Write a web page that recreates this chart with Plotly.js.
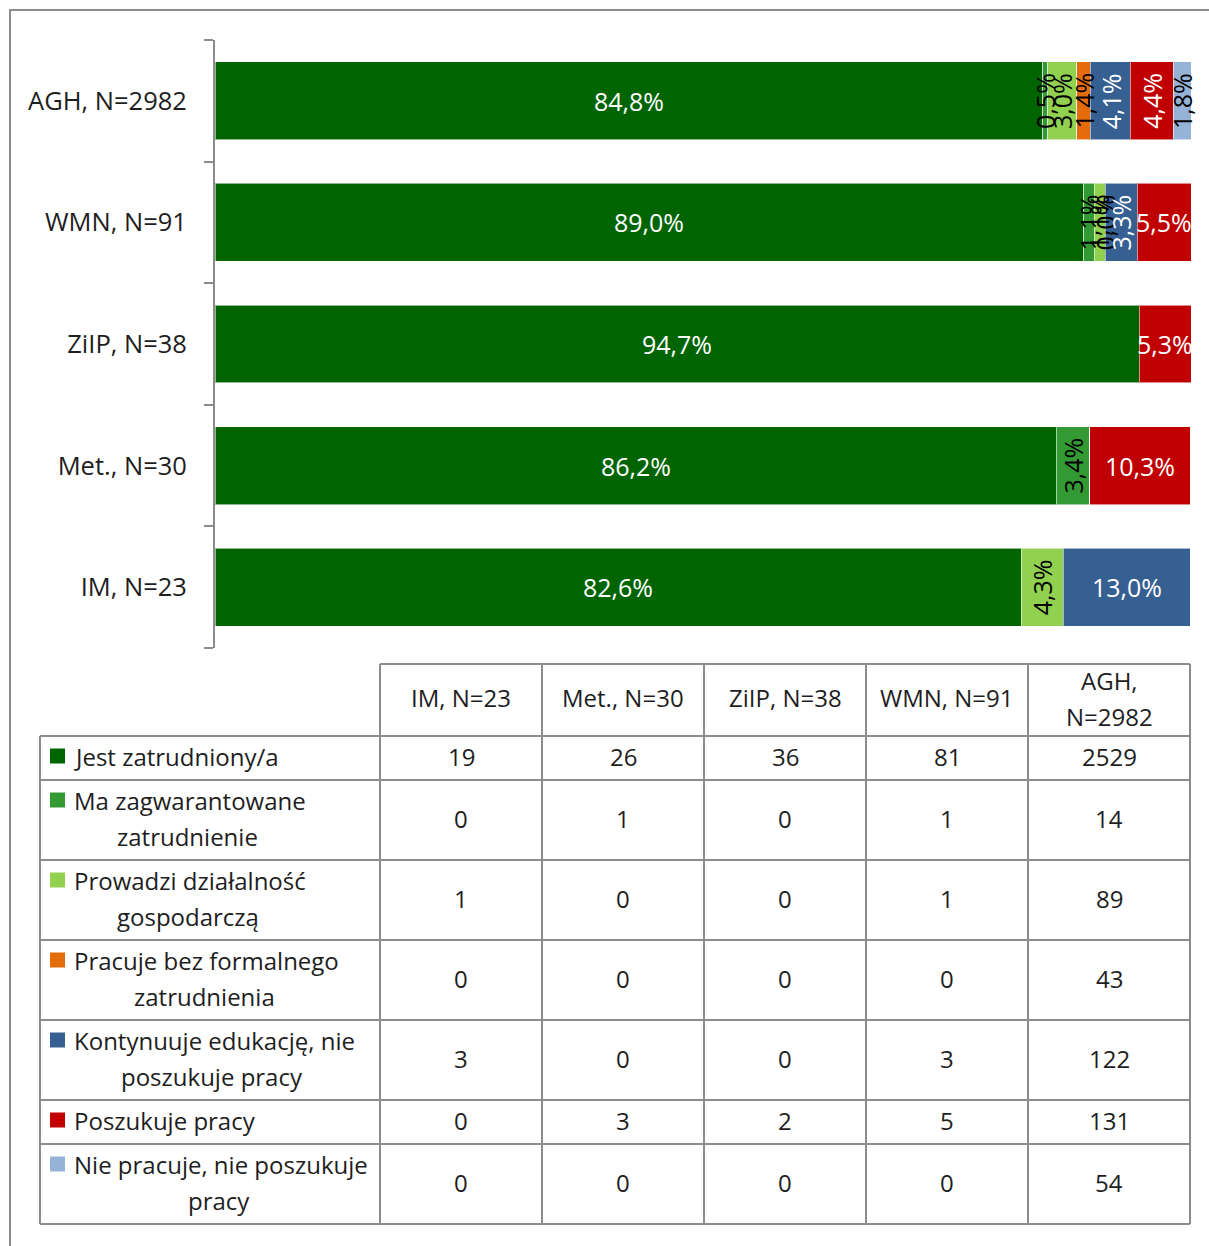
<!DOCTYPE html>
<html><head><meta charset="utf-8">
<script src="https://cdn.plot.ly/plotly-3.0.1.min.js"></script>
<style>body{margin:0;background:#fff}#chart{width:1209px;height:1246px}</style>
</head><body><div id="chart"></div>
<script>
// ---------- DATA ----------
const categories = ["IM, N=23", "Met., N=30", "ZiIP, N=38", "WMN, N=91", "AGH, N=2982"];
const tableHeaders = [["IM, N=23"], ["Met., N=30"], ["ZiIP, N=38"], ["WMN, N=91"], ["AGH,", "N=2982"]];
const seriesNames = ["Jest zatrudniony/a", "Ma zagwarantowane zatrudnienie", "Prowadzi działalność gospodarczą",
  "Pracuje bez formalnego zatrudnienia", "Kontynuuje edukację, nie poszukuje pracy", "Poszukuje pracy",
  "Nie pracuje, nie poszukuje pracy"];
const tableRowLabels = [["Jest zatrudniony/a"], ["Ma zagwarantowane", "zatrudnienie"], ["Prowadzi działalność", "gospodarczą"],
  ["Pracuje bez formalnego", "zatrudnienia"], ["Kontynuuje edukację, nie", "poszukuje pracy"], ["Poszukuje pracy"],
  ["Nie pracuje, nie poszukuje", "pracy"]];

// percentages (order: IM, Met., ZiIP, WMN, AGH); null = no segment / no label
const pctJest   = [82.6, 86.2, 94.7, 89.0, 84.8];
const pctGwar   = [null, 3.4, null, 1.1, 0.5];
const pctDzial  = [4.3, null, null, 1.1, 3.0];
const pctBez    = [null, null, null, 0.0, 1.4];
const pctEdu    = [13.0, null, null, 3.3, 4.1];
const pctSzuka  = [null, 10.3, 5.3, 5.5, 4.4];
const pctNie    = [null, null, null, null, 1.8];

// counts (table)
const cntJest   = [19, 26, 36, 81, 2529];
const cntGwar   = [0, 1, 0, 1, 14];
const cntDzial  = [1, 0, 0, 1, 89];
const cntBez    = [0, 0, 0, 0, 43];
const cntEdu    = [3, 0, 0, 3, 122];
const cntSzuka  = [0, 3, 2, 5, 131];
const cntNie    = [0, 0, 0, 0, 54];

// ---------- STYLE ----------
const seriesColors = ["#006400", "#339933", "#92D050", "#E46C0A", "#376092", "#C00000", "#95B3D7"];
const labelColors  = ["#ffffff", "#000000", "#000000", "#000000", "#ffffff", "#ffffff", "#000000"];
const pctSeries = [pctJest, pctGwar, pctDzial, pctBez, pctEdu, pctSzuka, pctNie];
const cntSeries = [cntJest, cntGwar, cntDzial, cntBez, cntEdu, cntSzuka, cntNie];

const W = 1209, H = 1246;
const M = {l: 215, r: 18, t: 40, b: 598};
const PW = W - M.l - M.r, PH = H - M.t - M.b;
const FONT = "Open Sans, Noto Sans, sans-serif";
const FS = 24, FS_AX = 25.5, FS_BAR = 25;
const TXT = "#1e1e1e";
const GRID = "#8c8c8c";
const px2x = p => (p - M.l) / PW;
const px2y = p => 1 - (p - M.t) / PH;

const cv = document.createElement("canvas").getContext("2d");
function tw(s) { cv.font = FS + "px 'Open Sans'"; return cv.measureText(s).width; }

// ---------- BARS ----------
const traces = seriesNames.map((n, i) => ({
  type: "bar", orientation: "h", name: n,
  x: pctSeries[i].map(v => v === null ? 0 : v), y: categories,
  marker: {color: seriesColors[i], line: {color: "rgba(255,255,255,0.55)", width: 1}},
  hoverinfo: "skip", showlegend: false
}));

const annotations = [];
const shapes = [];
// bar labels
categories.forEach((c, ci) => {
  let cum = 0;
  pctSeries.forEach((arr, si) => {
    const v = arr[ci];
    if (v === null) return;
    annotations.push({
      x: cum + v / 2, y: c, xref: "x", yref: "y",
      text: v.toFixed(1).replace(".", ",") + "%",
      showarrow: false, textangle: v >= 5 ? 0 : -90,
      xanchor: "center", yanchor: "middle",
      font: {family: FONT, size: FS_BAR, color: labelColors[si]}
    });
    cum += v;
  });
});

// ---------- TABLE ----------
const tLeft = 40, labelW = 340, colW = 162, tTop = 664, headH = 72;
const rowH = tableRowLabels.map(l => l.length > 1 ? 80 : 44);
const lineGap = 36;
const colX = [tLeft, tLeft + labelW];
for (let i = 1; i <= categories.length; i++) colX.push(tLeft + labelW + i * colW);
const rowY = [tTop, tTop + headH];
rowH.forEach(h => rowY.push(rowY[rowY.length - 1] + h));
const tRight = colX[colX.length - 1], tBottom = rowY[rowY.length - 1];

function line(x0, y0, x1, y1) {
  shapes.push({type: "line", xref: "paper", yref: "paper", x0: px2x(x0), y0: px2y(y0), x1: px2x(x1), y1: px2y(y1),
    line: {color: GRID, width: 2}});
}
rowY.forEach((y, i) => line(i === 0 ? colX[1] : tLeft, y, tRight, y));
colX.forEach((x, i) => line(x, i === 0 ? rowY[1] : tTop, x, tBottom));

function txt(x, y, s, xanchor) {
  annotations.push({xref: "paper", yref: "paper", x: px2x(x), y: px2y(y), text: s, showarrow: false,
    xanchor: xanchor || "center", yanchor: "middle", font: {family: FONT, size: FS, color: TXT}});
}
const yShift = -2;
tableHeaders.forEach((lines, ci) => {
  const cx = (colX[ci + 1] + colX[ci + 2]) / 2, cy = (rowY[0] + rowY[1]) / 2 + yShift;
  lines.forEach((s, li) => txt(cx, cy + (li - (lines.length - 1) / 2) * lineGap, s));
});
tableRowLabels.forEach((lines, ri) => {
  const cy = (rowY[ri + 1] + rowY[ri + 2]) / 2 + yShift;
  const textX = tLeft + 32;
  const w0 = tw(lines[0]);
  lines.forEach((s, li) => {
    const y = cy + (li - (lines.length - 1) / 2) * lineGap;
    if (li === 0) txt(textX, y, s, "left"); else txt(textX + w0 / 2, y, s, "center");
  });
  const sy = cy - (lines.length - 1) / 2 * lineGap;
  shapes.push({type: "rect", xref: "paper", yref: "paper", x0: px2x(tLeft + 10), x1: px2x(tLeft + 25),
    y0: px2y(sy - 7.5), y1: px2y(sy + 7.5), fillcolor: seriesColors[ri], line: {width: 0}});
  cntSeries[ri].forEach((v, ci) => txt((colX[ci + 1] + colX[ci + 2]) / 2, cy, String(v)));
});

// outer frame
shapes.push({type: "rect", xref: "paper", yref: "paper", x0: px2x(10), y0: px2y(10), x1: px2x(W + 20), y1: px2y(H + 20),
  line: {color: GRID, width: 2}, fillcolor: "rgba(0,0,0,0)"});

const layout = {
  width: W, height: H, margin: M, barmode: "stack", bargap: 0.36,
  paper_bgcolor: "#ffffff", plot_bgcolor: "#ffffff",
  font: {family: FONT, size: FS, color: TXT},
  xaxis: {range: [0, 100], visible: false, fixedrange: true},
  yaxis: {type: "category", showline: true, linecolor: GRID, linewidth: 2, ticks: "outside", tickson: "boundaries",
    ticklen: 9, tickwidth: 2, tickcolor: GRID, showgrid: false, zeroline: false, ticklabelstandoff: 21,
    tickfont: {family: FONT, size: FS_AX, color: TXT}, fixedrange: true},
  annotations: annotations, shapes: shapes, hovermode: false
};
Plotly.newPlot("chart", traces, layout, {displayModeBar: false, staticPlot: true});
</script></body></html>
